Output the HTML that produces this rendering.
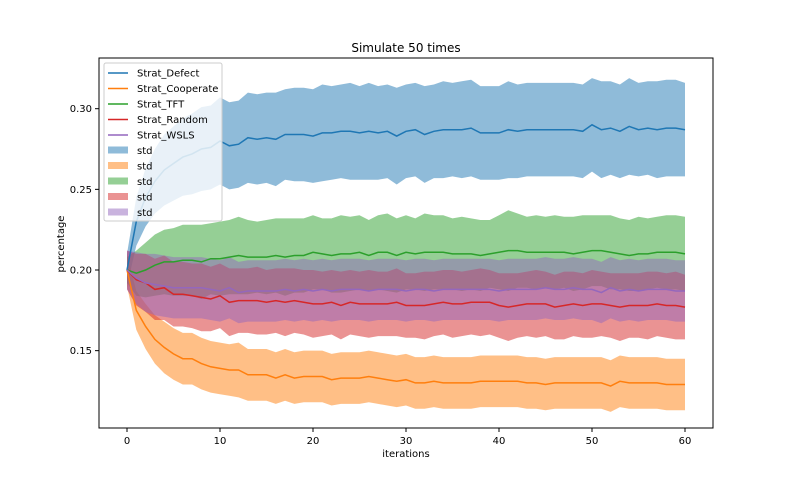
<!DOCTYPE html>
<html><head><meta charset="utf-8"><style>
body{margin:0;background:#fff;}
svg{font-family:"DejaVu Sans","Liberation Sans",sans-serif;}
</style></head><body>
<svg id="chart" width="792" height="489" xmlns="http://www.w3.org/2000/svg">
<rect width="792" height="489" fill="#fff"/>
<g id="fills"></g>
<g id="lines"></g>
<g id="axes"></g>
<text x="406" y="52" font-size="12" text-anchor="middle">Simulate 50 times</text>
<text x="406" y="457" font-size="10" text-anchor="middle">iterations</text>
<text x="0" y="0" font-size="10" text-anchor="middle" transform="translate(64,244) rotate(-90)">percentage</text>
<g id="legend"></g>
</svg>
<script>
const xTicks=[0,10,20,30,40,50,60];
const yTicks=[0.15,0.20,0.25,0.30];
const yTickLabels=["0.15","0.20","0.25","0.30"];
const seriesNames=["Strat_Defect","Strat_Cooperate","Strat_TFT","Strat_Random","Strat_WSLS"];
const defectMean=[0.200,0.230,0.245,0.255,0.262,0.266,0.270,0.272,0.275,0.276,0.280,0.277,0.278,0.282,0.281,0.282,0.281,0.284,0.284,0.284,0.283,0.285,0.285,0.286,0.286,0.285,0.286,0.285,0.286,0.283,0.286,0.287,0.284,0.286,0.287,0.287,0.287,0.288,0.285,0.285,0.285,0.287,0.286,0.287,0.287,0.287,0.287,0.287,0.287,0.286,0.290,0.287,0.288,0.286,0.289,0.287,0.288,0.287,0.288,0.288,0.287];
const defectStd=[0.010,0.015,0.018,0.020,0.022,0.023,0.024,0.025,0.026,0.026,0.027,0.027,0.027,0.028,0.028,0.028,0.029,0.028,0.029,0.029,0.029,0.030,0.029,0.029,0.030,0.029,0.030,0.029,0.029,0.030,0.029,0.029,0.030,0.029,0.030,0.029,0.030,0.030,0.029,0.029,0.029,0.030,0.029,0.029,0.029,0.029,0.029,0.029,0.029,0.029,0.029,0.030,0.029,0.029,0.030,0.029,0.029,0.030,0.030,0.030,0.029];
const coopMean=[0.200,0.175,0.165,0.157,0.152,0.148,0.145,0.145,0.142,0.140,0.139,0.138,0.138,0.135,0.135,0.135,0.133,0.135,0.133,0.134,0.134,0.134,0.132,0.133,0.133,0.133,0.134,0.133,0.132,0.131,0.132,0.130,0.130,0.131,0.130,0.130,0.130,0.130,0.131,0.131,0.131,0.131,0.131,0.130,0.130,0.129,0.130,0.130,0.130,0.130,0.130,0.130,0.128,0.131,0.130,0.130,0.130,0.130,0.129,0.129,0.129];
const coopStd=[0.010,0.012,0.014,0.015,0.016,0.016,0.016,0.016,0.016,0.016,0.016,0.016,0.017,0.016,0.016,0.016,0.016,0.016,0.016,0.016,0.016,0.016,0.016,0.016,0.016,0.016,0.016,0.016,0.016,0.016,0.016,0.016,0.016,0.016,0.016,0.016,0.016,0.016,0.016,0.016,0.016,0.016,0.016,0.016,0.016,0.016,0.016,0.016,0.016,0.016,0.016,0.016,0.016,0.016,0.016,0.016,0.016,0.016,0.016,0.016,0.016];
const tftMean=[0.200,0.198,0.200,0.203,0.205,0.205,0.206,0.206,0.205,0.207,0.207,0.208,0.209,0.208,0.208,0.208,0.209,0.208,0.209,0.209,0.211,0.210,0.209,0.210,0.210,0.211,0.209,0.211,0.211,0.209,0.211,0.210,0.211,0.211,0.211,0.210,0.210,0.210,0.209,0.210,0.211,0.212,0.212,0.211,0.211,0.211,0.211,0.211,0.210,0.211,0.212,0.212,0.211,0.210,0.209,0.210,0.210,0.211,0.211,0.211,0.210];
const tftStd=[0.008,0.014,0.017,0.019,0.020,0.021,0.022,0.022,0.023,0.022,0.023,0.023,0.024,0.023,0.022,0.023,0.023,0.024,0.023,0.023,0.023,0.022,0.023,0.024,0.023,0.023,0.022,0.023,0.024,0.023,0.023,0.022,0.024,0.023,0.023,0.022,0.023,0.022,0.022,0.021,0.023,0.025,0.023,0.022,0.023,0.022,0.023,0.022,0.023,0.023,0.022,0.022,0.023,0.022,0.022,0.023,0.022,0.022,0.023,0.023,0.023];
const randMean=[0.200,0.194,0.192,0.188,0.189,0.185,0.185,0.184,0.183,0.182,0.184,0.180,0.181,0.181,0.181,0.180,0.181,0.180,0.181,0.180,0.179,0.179,0.180,0.178,0.180,0.179,0.179,0.179,0.179,0.180,0.178,0.178,0.178,0.179,0.180,0.179,0.179,0.180,0.180,0.180,0.178,0.177,0.178,0.179,0.179,0.179,0.177,0.178,0.179,0.178,0.179,0.179,0.178,0.177,0.178,0.178,0.178,0.179,0.178,0.178,0.177];
const randStd=[0.012,0.016,0.018,0.019,0.020,0.020,0.020,0.020,0.021,0.020,0.020,0.021,0.020,0.020,0.021,0.020,0.020,0.021,0.020,0.020,0.021,0.020,0.020,0.021,0.020,0.020,0.021,0.020,0.020,0.021,0.020,0.020,0.021,0.020,0.020,0.021,0.020,0.020,0.021,0.020,0.020,0.021,0.020,0.020,0.021,0.020,0.020,0.021,0.020,0.020,0.021,0.020,0.020,0.021,0.020,0.020,0.021,0.020,0.020,0.021,0.020];
const wslsMean=[0.200,0.195,0.192,0.191,0.190,0.189,0.189,0.189,0.189,0.188,0.187,0.189,0.186,0.187,0.187,0.187,0.187,0.188,0.187,0.188,0.187,0.188,0.187,0.188,0.188,0.188,0.187,0.188,0.188,0.188,0.187,0.188,0.188,0.187,0.188,0.188,0.188,0.188,0.188,0.188,0.187,0.188,0.188,0.188,0.188,0.189,0.188,0.188,0.189,0.188,0.188,0.186,0.189,0.187,0.188,0.187,0.188,0.188,0.188,0.187,0.187];
const wslsStd=[0.012,0.016,0.018,0.019,0.019,0.019,0.019,0.019,0.019,0.019,0.019,0.019,0.019,0.019,0.019,0.019,0.019,0.019,0.019,0.019,0.019,0.019,0.019,0.019,0.019,0.019,0.019,0.019,0.019,0.019,0.019,0.019,0.019,0.019,0.019,0.019,0.019,0.019,0.019,0.019,0.019,0.019,0.019,0.019,0.019,0.019,0.019,0.019,0.019,0.019,0.019,0.019,0.019,0.019,0.019,0.019,0.019,0.019,0.019,0.019,0.019];

const NS="http://www.w3.org/2000/svg";
const L=99,R=713,T=58,B=428;
const xs=v=>127+(v-0)*(685-127)/60;
const ys=v=>270-(v-0.2)*1613;
const colors=["#1f77b4","#ff7f0e","#2ca02c","#d62728","#9467bd"];
const means=[defectMean,coopMean,tftMean,randMean,wslsMean];
const stds=[defectStd,coopStd,tftStd,randStd,wslsStd];
function mk(tag,attrs,parent){const e=document.createElementNS(NS,tag);for(const k in attrs)e.setAttribute(k,attrs[k]);parent.appendChild(e);return e;}
const fills=document.getElementById('fills'),lines=document.getElementById('lines'),axes=document.getElementById('axes'),legend=document.getElementById('legend');
const bandNames=['defect-std-band','cooperate-std-band','tft-std-band','random-std-band','wsls-std-band'];
const lineNames=['defect-line','cooperate-line','tft-line','random-line','wsls-line'];
means.forEach((m,s)=>{
  const sd=stds[s];let up=[],dn=[];
  m.forEach((v,i)=>{up.push(xs(i).toFixed(1)+','+ys(v+sd[i]).toFixed(1));dn.push(xs(i).toFixed(1)+','+ys(v-sd[i]).toFixed(1));});
  const p=mk('polygon',{points:up.concat(dn.reverse()).join(' '),fill:colors[s],'fill-opacity':0.5},fills);
  
  
});
means.forEach((m,s)=>{
  const pts=m.map((v,i)=>xs(i).toFixed(1)+','+ys(v).toFixed(1)).join(' ');
  const p=mk('polyline',{points:pts,fill:'none',stroke:colors[s],'stroke-width':1.5},lines);
  
  
});
const frame=mk('rect',{x:L,y:T,width:R-L,height:B-T,fill:'none',stroke:'#000','stroke-width':1},axes);


xTicks.forEach(t=>{
  mk('line',{x1:xs(t),x2:xs(t),y1:B,y2:B+4,stroke:'#000'},axes);
  const tx=mk('text',{x:xs(t),y:B+16,'font-size':10,'text-anchor':'middle'},axes);tx.textContent=t;
  
  
});
yTicks.forEach((t,i)=>{
  mk('line',{x1:L-4,x2:L,y1:ys(t),y2:ys(t),stroke:'#000'},axes);
  const tx=mk('text',{x:L-7,y:ys(t)+3.5,'font-size':10,'text-anchor':'end'},axes);tx.textContent=yTickLabels[i];
  
  
});
mk('rect',{x:104,y:63,width:118,height:158,fill:'#fff','fill-opacity':0.8,stroke:'#ccc',rx:2},legend);
const labels=seriesNames.concat(['std','std','std','std','std']);
labels.forEach((lab,i)=>{
  const y=73+i*15.5;const c=colors[i%5];
  if(i<5){mk('line',{x1:108,x2:128,y1:y,y2:y,stroke:c,'stroke-width':1.5},legend);}
  else{mk('rect',{x:108,y:y-4,width:20,height:7,fill:c,'fill-opacity':0.5},legend);}
  const tx=mk('text',{x:137,y:y+3.5,'font-size':10},legend);tx.textContent=lab;
  
  
});
</script>
</body></html>
